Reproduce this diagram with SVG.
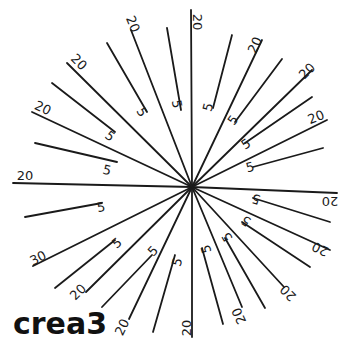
<svg xmlns="http://www.w3.org/2000/svg" width="340" height="342" viewBox="0 0 340 342">
<style>
.ln{stroke:#1a1a1a;stroke-width:1.8;stroke-linecap:round;fill:none}
.lb{font-family:"DejaVu Sans",sans-serif;font-size:13px;fill:#1a1a1a;text-anchor:middle;dominant-baseline:central}
.title{font-family:"DejaVu Sans",sans-serif;font-weight:bold;font-size:30px;fill:#111}
</style>
<rect width="340" height="342" fill="#fff"/>
<g id="connectors">
<line class="ln" x1="192" y1="187" x2="191" y2="10"/>
<line class="ln" x1="192" y1="187" x2="262" y2="40"/>
<line class="ln" x1="192" y1="187" x2="312" y2="70"/>
<line class="ln" x1="192" y1="187" x2="327" y2="120"/>
<line class="ln" x1="192" y1="187" x2="337" y2="193"/>
<line class="ln" x1="192" y1="187" x2="330" y2="250"/>
<line class="ln" x1="192" y1="187" x2="284" y2="287"/>
<line class="ln" x1="192" y1="187" x2="242" y2="307"/>
<line class="ln" x1="192" y1="187" x2="192" y2="337"/>
<line class="ln" x1="192" y1="187" x2="129" y2="319"/>
<line class="ln" x1="192" y1="187" x2="86" y2="292"/>
<line class="ln" x1="192" y1="187" x2="33" y2="266"/>
<line class="ln" x1="192" y1="187" x2="13" y2="183"/>
<line class="ln" x1="192" y1="187" x2="32" y2="112"/>
<line class="ln" x1="192" y1="187" x2="67" y2="63"/>
<line class="ln" x1="192" y1="187" x2="131" y2="30"/>
<line class="ln" x1="213" y1="108" x2="232" y2="35"/>
<line class="ln" x1="235" y1="122" x2="282" y2="59"/>
<line class="ln" x1="245" y1="143" x2="312" y2="97"/>
<line class="ln" x1="253" y1="167" x2="323" y2="148"/>
<line class="ln" x1="253" y1="198" x2="330" y2="222"/>
<line class="ln" x1="242" y1="222" x2="310" y2="267"/>
<line class="ln" x1="225" y1="238" x2="265" y2="308"/>
<line class="ln" x1="202" y1="248" x2="223" y2="324"/>
<line class="ln" x1="175" y1="255" x2="153" y2="332"/>
<line class="ln" x1="152" y1="255" x2="102" y2="307"/>
<line class="ln" x1="115" y1="240" x2="55" y2="288"/>
<line class="ln" x1="102" y1="203" x2="25" y2="217"/>
<line class="ln" x1="117" y1="162" x2="35" y2="143"/>
<line class="ln" x1="115" y1="132" x2="52" y2="83"/>
<line class="ln" x1="147" y1="112" x2="107" y2="43"/>
<line class="ln" x1="181" y1="110" x2="167" y2="28"/>
</g>
<g id="labels-20">
<text class="lb" transform="translate(197 22) rotate(90)">20</text>
<text class="lb" transform="translate(255 45) rotate(-65)">20</text>
<text class="lb" transform="translate(307 71) rotate(-45)">20</text>
<text class="lb" transform="translate(316 117) rotate(-22)">20</text>
<text class="lb" transform="translate(330 201) rotate(180)">20</text>
<text class="lb" transform="translate(320 249) rotate(205)">20</text>
<text class="lb" transform="translate(288 293) rotate(225)">20</text>
<text class="lb" transform="translate(239 316) rotate(245)">20</text>
<text class="lb" transform="translate(186 328) rotate(270)">20</text>
<text class="lb" transform="translate(122 327) rotate(-64)">20</text>
<text class="lb" transform="translate(78 292) rotate(-45)">20</text>
<text class="lb" transform="translate(38 258) rotate(-27)">30</text>
<text class="lb" transform="translate(25 175) rotate(0)">20</text>
<text class="lb" transform="translate(43 108) rotate(25)">20</text>
<text class="lb" transform="translate(79 62) rotate(45)">20</text>
<text class="lb" transform="translate(133 24) rotate(68)">20</text>
</g>
<g id="labels-5">
<text class="lb" transform="translate(208 107) rotate(-75)">5</text>
<text class="lb" transform="translate(233 120) rotate(-53)">5</text>
<text class="lb" transform="translate(246 144) rotate(-34)">5</text>
<text class="lb" transform="translate(250 167) rotate(-15)">5</text>
<text class="lb" transform="translate(256 199) rotate(197)">5</text>
<text class="lb" transform="translate(246 221) rotate(213)">5</text>
<text class="lb" transform="translate(227 237) rotate(240)">5</text>
<text class="lb" transform="translate(206 249) rotate(254)">5</text>
<text class="lb" transform="translate(177 262) rotate(-74)">5</text>
<text class="lb" transform="translate(153 251) rotate(-46)">5</text>
<text class="lb" transform="translate(117 243) rotate(-39)">5</text>
<text class="lb" transform="translate(101 207) rotate(-10)">5</text>
<text class="lb" transform="translate(107 170) rotate(13)">5</text>
<text class="lb" transform="translate(110 136) rotate(38)">5</text>
<text class="lb" transform="translate(142 112) rotate(60)">5</text>
<text class="lb" transform="translate(177 104) rotate(80)">5</text>
</g>
<g id="title">
<text class="title" x="13" y="334">crea3</text>
</g>
</svg>
